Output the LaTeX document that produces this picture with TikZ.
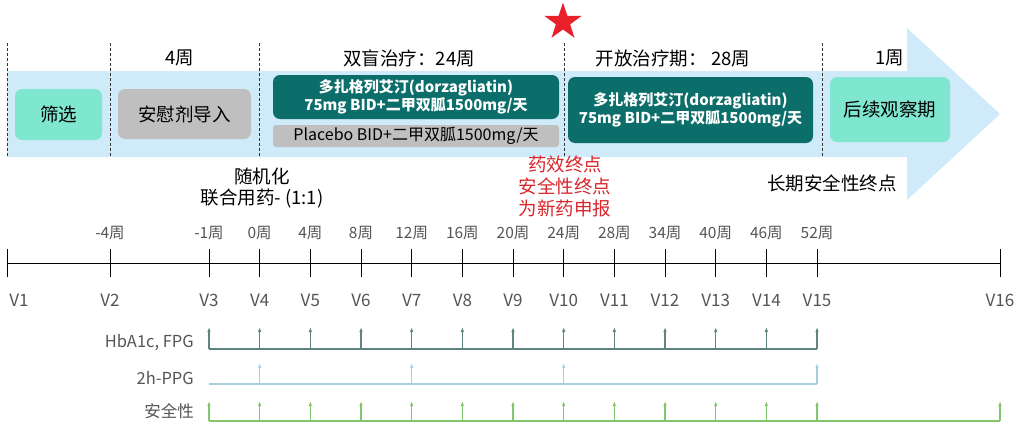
\documentclass[tikz,border=0pt]{standalone}
\usepackage{fontspec}
\setmainfont{Noto Sans CJK SC}
\usetikzlibrary{shapes.geometric,arrows.meta}

\definecolor{bandblue}{HTML}{CFEAF8}
\definecolor{mintgreen}{HTML}{7FE6CF}
\definecolor{boxgray}{HTML}{BFBFBF}
\definecolor{darkteal}{HTML}{0B6E6A}
\definecolor{endred}{HTML}{D9262B}
\definecolor{starred}{HTML}{E8212A}
\definecolor{rowa}{HTML}{5E8581}
\definecolor{rowb}{HTML}{A6CDE0}
\definecolor{rowc}{HTML}{83C56C}
\definecolor{txtgray}{HTML}{555555}

\begin{document}
\begin{tikzpicture}[x=1pt,y=-1pt]
    \tikzset{%
        >={Latex[length=5pt,width=3.5pt]}, % small arrow heads
        big text/.style={font=\fontsize{18.5}{21}\selectfont,inner sep=0pt},
        week text/.style={font=\fontsize{15.5}{17}\selectfont,text=txtgray,inner sep=0pt},
        visit text/.style={font=\fontsize{17}{19}\selectfont,text=txtgray,inner sep=0pt},
        row text/.style={font=\fontsize{16.5}{18}\selectfont,text=txtgray,anchor=east,inner sep=0pt},
        phase box/.style={rounded corners=7pt,inner sep=0pt,big text},
        drug box/.style={phase box,fill=darkteal,text=white,align=center,
                font=\bfseries\fontsize{15}{18}\selectfont},
        phase sep/.style={densely dashed,line width=0.6pt,black!80},
        row line/.style={line width=1.1pt}
    }
    \useasboundingbox (0,0) rectangle (1020,426);

    %% band with arrow head

    \fill[bandblue] (7,71) -- (907,71) -- (907,28) -- (1000,114) -- (907,200)
    -- (907,157) -- (7,157) -- cycle;
    \foreach \x in {7,110,259,564,822}
        \draw[phase sep] (\x,43) -- (\x,157);

    %% phase boxes

    \node[phase box,fill=mintgreen,minimum width=87pt,minimum height=51pt]
    (screen) at (58.5,114.5) {筛选};
    \node[phase box,fill=boxgray,minimum width=133pt,minimum height=50pt]
    (runin) at (184.5,114) {安慰剂导入};
    \node[drug box,minimum width=286pt,minimum height=44pt] (blind)
    at (416,97) {多扎格列艾汀(dorzagliatin)\\75mg BID+二甲双胍1500mg/天};
    \node[phase box,rounded corners=3pt,fill=boxgray,minimum width=286pt,minimum height=22pt,
        font=\fontsize{16}{17}\selectfont] (placebo) at (416,136) {Placebo BID+二甲双胍1500mg/天};
    \node[drug box,minimum width=245pt,minimum height=66pt] (open)
    at (690.5,110) {多扎格列艾汀(dorzagliatin)\\75mg BID+二甲双胍1500mg/天};
    \node[phase box,fill=mintgreen,minimum width=120pt,minimum height=65pt]
    (follow) at (890,109.5) {后续观察期};

    %% phase titles and endpoints

    \node[big text] (t4w) at (180,58) {4周};
    \node[big text] (tblind) at (409,58) {双盲治疗：24周};
    \node[big text] (topen) at (673,58) {开放治疗期： 28周};
    \node[big text] (t1w) at (890,58) {1周};
    \node[star,star points=5,star point ratio=2.6,fill=starred,minimum size=39pt,
        inner sep=0pt] (star) at (563,22) {};
    \node[big text,align=center,font=\fontsize{18.5}{21}\selectfont] (random)
    at (262,188) {随机化\\联合用药- (1:1)};
    \node[big text,align=center,text=endred,font=\fontsize{18.5}{22}\selectfont] (endpt)
    at (565,186) {药效终点\\安全性终点\\为新药申报};
    \node[big text] (longsafe) at (832,183) {长期安全性终点};

    %% visit axis

    \coordinate (v1) at (7,263);
    \coordinate (v2) at (110,263);
    \foreach \i in {3,...,15}
        \coordinate (v\i) at ({209+(\i-3)*50.67},263);
    \coordinate (v16) at (1000,263);
    \draw[line width=0.8pt] (v1) -- (v16);
    \foreach \i in {1,...,16}
        \draw[line width=0.8pt] (v\i) ++(0,-14) -- ++(0,28);
    \path (v1) ++(12,37) node[visit text] (vl1) {V1};
    \foreach \i in {2,...,16}
        \path (v\i) ++(0,37) node[visit text] (vl\i) {V\i};
    \foreach \i/\wk in {2/-4,3/-1,4/0,5/4,6/8,7/12,8/16,9/20,10/24,11/28,12/34,13/40,14/46,15/52}
        \path (v\i) ++(0,-30) node[week text] (wk\i) {{\wk}周};

    %% assessments

    \coordinate (rowA) at (0,349);
    \coordinate (rowB) at (0,384);
    \coordinate (rowC) at (0,421);
    \node[row text] (hba) at (194,342) {HbA1c, FPG};
    \node[row text] (ppg) at (194,378) {2h-PPG};
    \node[row text] (safe) at (194,411) {安全性};

    \draw[row line,rowa] (v3 |- rowA) -- (v15 |- rowA);
    \foreach \i in {3,...,15}
        \draw[row line,rowa,->] (v\i |- rowA) -- ++(0,-22);
    \draw[row line,rowb] (v3 |- rowB) -- (v15 |- rowB);
    \foreach \i in {4,7,10,15}
        \draw[row line,rowb,->] (v\i |- rowB) -- ++(0,-21);
    \draw[row line,rowc] (v3 |- rowC) -- (v16 |- rowC);
    \foreach \i in {3,...,16}
        \draw[row line,rowc,->] (v\i |- rowC) -- ++(0,-20);
\end{tikzpicture}
\end{document}
